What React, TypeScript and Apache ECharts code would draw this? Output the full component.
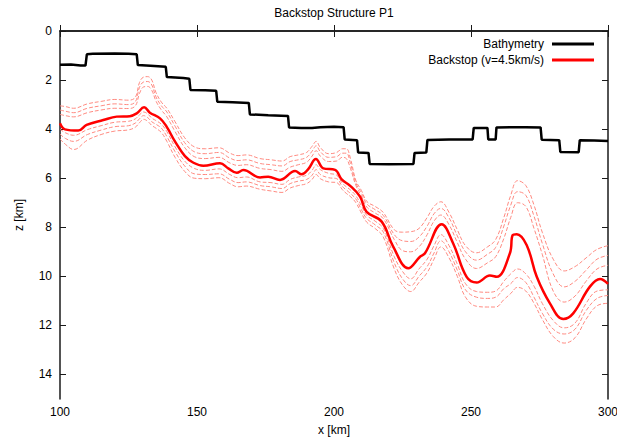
import { useEffect, useRef } from 'react';
import * as echarts from 'echarts';

// Seafloor (bathymetry) profile, stepped
const bathyX = [100, 104, 107.5, 109.3, 109.8, 112, 120, 125, 128, 128.4, 133, 138.6, 139, 145, 147.2, 147.6, 153, 157, 157.4, 163, 168.9, 169.3, 176, 183.2, 183.6, 188, 192, 195, 200, 203.5, 203.9, 208.4, 208.8, 212.6, 213, 220, 229, 229.4, 233.7, 234.1, 242, 250.6, 251, 256, 256.3, 259, 259.3, 265, 270, 275.4, 275.8, 282.2, 282.6, 289.3, 289.7, 295, 300];
const bathyZ = [1.38, 1.37, 1.41, 1.41, 0.95, 0.93, 0.92, 0.93, 0.95, 1.39, 1.42, 1.46, 1.88, 1.92, 1.95, 2.4, 2.42, 2.44, 2.88, 2.9, 2.93, 3.4, 3.43, 3.46, 3.93, 3.95, 3.95, 3.92, 3.9, 3.92, 4.42, 4.45, 4.95, 4.97, 5.42, 5.43, 5.42, 4.97, 4.95, 4.44, 4.42, 4.42, 3.95, 3.95, 4.42, 4.42, 3.93, 3.92, 3.92, 3.93, 4.43, 4.45, 4.93, 4.94, 4.45, 4.46, 4.48];

// Backstop depth for v = 4.5 km/s
const backstopX = [100, 101.8, 106.7, 109.7, 115.8, 120.7, 125.5, 128, 130.7, 132.8, 136.5, 138.9, 142, 145.6, 148.7, 152.3, 158.4, 161.4, 164.5, 166.9, 173, 176, 180.3, 185.8, 188.2, 190.6, 193.4, 196.1, 200.4, 202.8, 205.8, 209.5, 211.9, 217.4, 221.6, 227.1, 231.4, 233.2, 239.3, 243.5, 248.4, 252.1, 256.9, 259.4, 264.2, 265.2, 266.7, 270.3, 274, 278.8, 283.7, 287.3, 293.4, 297.1, 300];
const backstopZ = [3.76, 4.01, 4.06, 3.83, 3.63, 3.49, 3.47, 3.36, 3.11, 3.33, 3.56, 3.9, 4.51, 5.1, 5.37, 5.49, 5.39, 5.6, 5.78, 5.67, 5.97, 5.94, 6.07, 5.71, 5.84, 5.63, 5.22, 5.6, 5.66, 6.05, 6.3, 6.75, 7.37, 7.77, 8.79, 9.67, 9.2, 9.06, 7.88, 8.66, 10.02, 10.25, 9.97, 10.02, 9.06, 8.32, 8.28, 8.72, 10.02, 11.1, 11.74, 11.51, 10.42, 10.11, 10.31];

// Neighbouring velocity contours (dashed), on a shared x grid
const contourX = [100, 102, 105, 110, 115, 120, 125, 127.5, 129, 130.5, 132, 133.5, 135, 137, 139, 142, 145.5, 149, 153, 158, 162, 165, 168, 173, 177, 181, 184, 187, 190, 192, 193.5, 195, 198, 201, 203, 204.5, 206, 208, 210, 212, 215, 218, 222, 225, 228, 231, 234, 236.5, 239, 242, 245, 248, 252, 256, 259, 262, 264.5, 267, 270, 273, 276, 280, 284, 288, 292, 296, 300];
const contourUpper3 = [3.05, 3.08, 3.15, 2.97, 2.87, 2.79, 2.82, 2.7, 2.1, 1.88, 1.86, 2.0, 2.5, 2.9, 3.15, 3.7, 4.35, 4.72, 4.8, 4.76, 4.98, 5.08, 5.05, 5.2, 5.25, 5.3, 5.12, 5.05, 4.95, 4.7, 4.5, 4.75, 5.0, 4.95, 4.8, 4.8, 5.2, 6.1, 6.5, 6.95, 7.15, 7.4, 8.1, 8.2, 8.18, 8.05, 7.6, 7.15, 6.96, 7.4, 8.1, 8.75, 9.04, 8.8, 8.5, 7.6, 6.7, 6.1, 6.3, 7.1, 8.2, 9.3, 9.78, 9.6, 9.25, 8.9, 8.75];
const contourUpper2 = [3.22, 3.27, 3.33, 3.15, 3.05, 2.97, 3.0, 2.88, 2.3, 2.08, 2.06, 2.2, 2.68, 3.05, 3.3, 3.88, 4.55, 4.92, 5.0, 4.95, 5.18, 5.28, 5.25, 5.4, 5.45, 5.5, 5.32, 5.25, 5.15, 4.9, 4.68, 4.92, 5.15, 5.12, 4.98, 4.98, 5.4, 6.2, 6.6, 7.05, 7.28, 7.52, 8.3, 8.55, 8.58, 8.4, 7.95, 7.45, 7.23, 7.62, 8.35, 9.0, 9.34, 9.1, 8.82, 7.95, 7.1, 6.55, 6.7, 7.55, 8.65, 9.9, 10.43, 10.2, 9.75, 9.3, 9.15];
const contourUpper1 = [3.4, 3.45, 3.5, 3.33, 3.22, 3.15, 3.16, 3.05, 2.55, 2.28, 2.26, 2.42, 2.85, 3.22, 3.5, 4.1, 4.75, 5.12, 5.2, 5.15, 5.38, 5.48, 5.45, 5.6, 5.65, 5.72, 5.55, 5.45, 5.35, 5.1, 4.88, 5.1, 5.32, 5.3, 5.15, 5.2, 5.6, 6.3, 6.72, 7.18, 7.42, 7.65, 8.5, 8.95, 9.0, 8.8, 8.3, 7.75, 7.5, 7.9, 8.62, 9.3, 9.68, 9.45, 9.2, 8.45, 7.6, 7.0, 7.15, 8.05, 9.1, 10.6, 11.05, 10.8, 10.2, 9.7, 9.55];
const contourLower1 = [4.0, 4.15, 4.25, 4.02, 3.86, 3.72, 3.68, 3.58, 3.42, 3.3, 3.38, 3.55, 3.65, 3.8, 4.1, 4.72, 5.3, 5.6, 5.68, 5.62, 5.85, 5.98, 5.95, 6.15, 6.18, 6.25, 6.05, 5.95, 5.88, 5.68, 5.45, 5.65, 5.8, 5.88, 6.2, 6.35, 6.48, 6.72, 7.12, 7.52, 7.75, 8.05, 9.2, 9.8, 10.1, 9.7, 9.3, 8.75, 8.3, 8.75, 9.5, 10.3, 10.62, 10.65, 10.6, 10.2, 9.9, 9.7, 9.9, 10.4, 11.1, 11.8, 12.1, 11.9, 11.1, 10.6, 10.55];
const contourLower2 = [4.2, 4.38, 4.5, 4.22, 4.04, 3.9, 3.86, 3.75, 3.58, 3.45, 3.53, 3.7, 3.8, 3.96, 4.3, 4.92, 5.5, 5.82, 5.85, 5.82, 6.05, 6.18, 6.15, 6.3, 6.35, 6.42, 6.22, 6.12, 6.05, 5.88, 5.65, 5.85, 5.98, 6.02, 6.33, 6.48, 6.62, 6.85, 7.28, 7.65, 7.9, 8.2, 9.45, 10.1, 10.38, 10.0, 9.6, 9.05, 8.55, 9.0, 9.75, 10.55, 10.85, 10.9, 10.85, 10.5, 10.3, 10.05, 10.25, 10.85, 11.5, 12.15, 12.35, 12.15, 11.4, 10.9, 10.78];
const contourLower3 = [4.4, 4.62, 4.83, 4.45, 4.22, 4.08, 4.03, 3.92, 3.74, 3.6, 3.68, 3.85, 3.96, 4.14, 4.5, 5.15, 5.72, 6.0, 6.02, 5.98, 6.22, 6.35, 6.32, 6.45, 6.52, 6.58, 6.4, 6.3, 6.22, 6.05, 5.85, 6.02, 6.15, 6.18, 6.46, 6.62, 6.75, 7.0, 7.42, 7.8, 8.05, 8.4, 9.7, 10.35, 10.62, 10.25, 9.85, 9.3, 8.8, 9.25, 10.0, 10.85, 11.22, 11.25, 11.25, 10.95, 10.7, 10.45, 10.6, 11.1, 11.75, 12.45, 12.72, 12.5, 11.75, 11.2, 11.1];

const xTicks = [100, 150, 200, 250, 300];
const zTicks = [0, 2, 4, 6, 8, 10, 12, 14];

const FONT = 'Liberation Sans, Arial, Helvetica, sans-serif';

const zip = (xs: number[], ys: number[]) => xs.map((x, i) => [x, ys[i]]);

export default function App() {
  const ref = useRef<HTMLDivElement>(null);

  useEffect(() => {
    if (!ref.current) return;
    const chart = echarts.init(ref.current, null, { renderer: 'svg' });

    const axisLine = { show: true, lineStyle: { color: '#1a1a1a', width: 1.5 } };
    const tick = { show: true, inside: true, length: 6, lineStyle: { color: '#1a1a1a', width: 1 } };
    const label = { color: '#000', fontSize: 12, fontFamily: FONT };

    const contours = [contourUpper3, contourUpper2, contourUpper1, contourLower1, contourLower2, contourLower3];

    chart.setOption({
      animation: false,
      backgroundColor: '#fff',
      grid: { left: 60, right: 9, top: 31, bottom: 40, containLabel: false, outerBoundsMode: 'none' },
      graphic: [
        {
          type: 'text',
          x: 334,
          y: 13,
          style: {
            text: 'Backstop Structure P1',
            align: 'center',
            verticalAlign: 'middle',
            fontSize: 12,
            fontFamily: FONT,
            fill: '#000',
          },
        },
      ],
      legend: {
        data: ['Bathymetry', 'Backstop (v=4.5km/s)'],
        orient: 'vertical',
        align: 'right',
        right: 23,
        top: 38,
        padding: 0,
        itemWidth: 42,
        itemHeight: 3,
        itemGap: 4,
        icon: 'rect',
        textStyle: { color: '#000', fontSize: 12, fontFamily: FONT, padding: [0, 3, 0, 0] },
      },
      xAxis: [
        {
          type: 'value',
          min: 100,
          max: 300,
          interval: 50,
          position: 'bottom',
          name: 'x [km]',
          nameLocation: 'middle',
          nameGap: 25,
          nameTextStyle: label,
          axisLine,
          axisTick: { ...tick, customValues: xTicks },
          axisLabel: { ...label, margin: 7, customValues: xTicks },
          splitLine: { show: false },
        },
        {
          type: 'value',
          min: 100,
          max: 300,
          interval: 50,
          position: 'top',
          axisLine,
          axisTick: { ...tick, customValues: xTicks },
          axisLabel: { show: false },
          splitLine: { show: false },
        },
      ],
      yAxis: [
        {
          type: 'value',
          min: 0,
          max: 15,
          interval: 2,
          inverse: true,
          position: 'left',
          name: 'z [km]',
          nameLocation: 'middle',
          nameGap: 35,
          nameTextStyle: label,
          axisLine,
          axisTick: { ...tick, customValues: zTicks },
          axisLabel: { ...label, margin: 8, customValues: zTicks },
          splitLine: { show: false },
        },
        {
          type: 'value',
          min: 0,
          max: 15,
          interval: 2,
          inverse: true,
          position: 'right',
          axisLine,
          axisTick: { ...tick, customValues: zTicks },
          axisLabel: { show: false },
          splitLine: { show: false },
        },
      ],
      series: [
        ...contours.map((zs, i) => ({
          type: 'line',
          id: 'contour' + i,
          data: zip(contourX, zs),
          smooth: 0.4,
          showSymbol: false,
          silent: true,
          lineStyle: { color: '#ff8a80', width: 1, type: [4, 2] },
          z: 1,
        })),
        {
          type: 'line',
          name: 'Backstop (v=4.5km/s)',
          data: zip(backstopX, backstopZ),
          smooth: 0.4,
          showSymbol: false,
          color: '#ff0000',
          lineStyle: { color: '#ff0000', width: 2.5 },
          z: 3,
        },
        {
          type: 'line',
          name: 'Bathymetry',
          data: zip(bathyX, bathyZ),
          showSymbol: false,
          color: '#000',
          lineStyle: { color: '#000', width: 2.5 },
          z: 4,
        },
      ],
    });

    return () => chart.dispose();
  }, []);

  return (
    <div
      ref={ref}
      style={{ position: 'fixed', left: 0, top: 0, width: 617, height: 439, background: '#fff' }}
    />
  );
}
